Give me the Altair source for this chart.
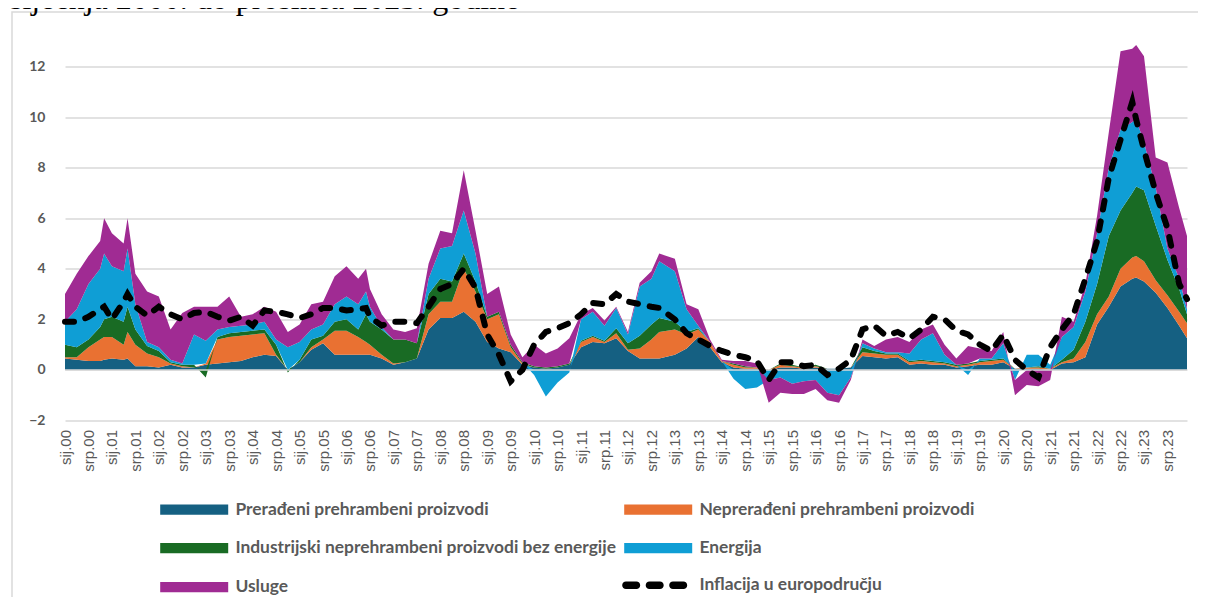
import json
import altair as alt
import pandas as pd

# month index: 0 = siječanj 2000, 287 = prosinac 2023
months = [0, 3, 6, 9, 10, 12, 15, 16, 18, 21,
          24, 27, 30, 33, 36, 39, 42, 45, 48, 51,
          54, 57, 60, 63, 66, 69, 72, 75, 77, 78,
          81, 84, 87, 90, 93, 96, 99, 102, 105, 108,
          111, 114, 117, 120, 123, 126, 129, 132, 135, 138,
          141, 144, 147, 150, 152, 156, 159, 162, 165, 168,
          171, 174, 177, 180, 183, 186, 189, 192, 195, 198,
          201, 204, 207, 210, 213, 216, 219, 222, 225, 228,
          231, 234, 237, 240, 243, 246, 249, 252, 255, 258,
          261, 264, 267, 270, 273, 274, 276, 279, 282, 285,
          287]

preradjeni = [0.45, 0.4, 0.35, 0.35, 0.4, 0.45, 0.4, 0.45, 0.15, 0.15,
              0.1, 0.2, 0.1, 0.1, 0.2, 0.25, 0.3, 0.35, 0.5, 0.6,
              0.55, 0.0, 0.3, 0.8, 1.05, 0.6, 0.6, 0.6, 0.6, 0.6,
              0.45, 0.2, 0.3, 0.45, 1.6, 2.05, 2.05, 2.3, 1.9, 1.1,
              0.85, 0.7, 0.2, 0.1, 0.05, 0.1, 0.2, 0.9, 1.1, 1.05,
              1.25, 0.75, 0.45, 0.45, 0.45, 0.6, 0.85, 1.3, 0.9, 0.3,
              0.1, 0.05, 0.05, 0.0, 0.1, 0.1, 0.05, 0.1, 0.05, 0.05,
              0.1, 0.55, 0.5, 0.45, 0.5, 0.2, 0.25, 0.2, 0.2, 0.1,
              0.15, 0.2, 0.2, 0.3, 0.05, 0.05, 0.05, 0.0, 0.25, 0.3,
              0.5, 1.8, 2.5, 3.3, 3.6, 3.65, 3.5, 3.05, 2.45, 1.75,
              1.25]

nepreradjeni = [0.05, 0.1, 0.55, 0.85, 0.9, 0.85, 0.6, 1.05, 0.85, 0.5,
                0.4, 0.05, 0.05, 0.0, 0.05, 0.95, 1.0, 1.0, 0.9, 0.85,
                0.05, 0.0, 0.0, 0.1, 0.15, 0.95, 0.95, 0.7, 0.5, 0.4,
                0.15, 0.05, 0.0, 0.0, 0.6, 0.65, 0.65, 1.7, 1.2, 0.9,
                1.35, 0.2, 0.05, 0.0, 0.0, 0.0, 0.0, 0.2, 0.2, 0.05,
                0.2, 0.05, 0.4, 0.75, 1.05, 1.0, 0.55, 0.3, 0.2, 0.05,
                0.1, 0.05, 0.05, 0.0, 0.1, 0.05, 0.05, 0.05, 0.0, 0.0,
                0.0, 0.15, 0.15, 0.15, 0.1, 0.1, 0.1, 0.1, 0.05, 0.05,
                0.05, 0.1, 0.15, 0.1, 0.0, 0.05, 0.05, 0.05, 0.05, 0.15,
                0.6, 0.4, 0.4, 0.7, 0.85, 0.85, 0.8, 0.5, 0.5, 0.55,
                0.6]

industrijski = [0.5, 0.4, 0.3, 0.5, 0.7, 0.8, 0.9, 1.0, 0.6, 0.3,
                0.25, 0.05, 0.05, 0.1, -0.3, 0.1, 0.15, 0.15, 0.15, 0.15,
                0.4, -0.1, 0.1, 0.3, 0.15, 0.35, 0.45, 0.3, 1.1, 0.9,
                1.0, 0.95, 0.9, 0.6, 0.8, 0.9, 0.8, 0.6, 0.4, 0.1,
                0.1, 0.1, 0.05, 0.05, 0.05, 0.05, 0.05, 0.05, 0.05, 0.05,
                0.2, 0.25, 0.5, 0.6, 0.55, 0.3, 0.1, 0.05, 0.0, 0.0,
                0.05, 0.05, 0.0, 0.0, 0.05, 0.05, 0.0, 0.05, 0.0, 0.0,
                0.0, 0.2, 0.1, 0.05, 0.05, 0.05, 0.05, 0.05, 0.05, 0.05,
                0.05, 0.05, 0.05, 0.05, 0.0, 0.0, 0.05, 0.0, 0.1, 0.35,
                0.8, 1.2, 2.4, 2.3, 2.55, 2.75, 2.8, 2.15, 1.4, 0.9,
                0.35]

energija = [0.9, 1.5, 2.2, 2.3, 2.6, 2.0, 2.0, 2.3, 1.0, 0.15,
            0.15, 0.1, 0.05, 1.2, 0.9, 0.3, 0.25, 0.25, 0.25, 0.3,
            0.2, 0.9, 0.7, 0.4, 0.45, 0.7, 0.9, 1.0, 0.9, 0.6,
            0.1, 0.0, 0.0, 0.0, 0.6, 1.2, 1.4, 1.7, 1.1, 0.0,
            0.0, 0.0, 0.0, -0.2, -1.05, -0.5, -0.1, 0.85, 0.95, 0.6,
            0.8, 0.35, 1.95, 1.8, 2.25, 2.0, 0.9, 0.1, 0.0, 0.0,
            -0.35, -0.75, -0.7, -0.4, -0.3, -0.55, -0.45, -0.4, -0.9, -1.0,
            -0.3, 0.15, 0.1, 0.05, 0.05, 0.3, 0.8, 1.1, 0.3, 0.0,
            -0.2, 0.1, 0.05, 0.6, -0.4, 0.5, 0.45, 0.15, 0.9, 0.9,
            1.2, 2.0, 2.7, 3.2, 2.8, 2.65, 1.9, 1.5, 0.45, 0.4,
            0.2]

usluge = [1.1, 1.4, 1.1, 1.1, 1.4, 1.3, 1.1, 1.2, 1.2, 2.0,
          2.0, 1.2, 2.0, 1.1, 1.35, 0.9, 1.2, 0.35, 0.4, 0.6,
          1.1, 0.6, 0.7, 1.0, 0.9, 1.1, 1.2, 1.0, 0.9, 0.7,
          0.5, 0.4, 0.3, 0.6, 0.6, 0.7, 0.5, 1.6, 0.9, 0.9,
          1.0, 0.4, 0.2, 0.85, 0.55, 0.7, 1.0, 0.2, 0.15, 0.2,
          0.05, 0.1, 0.15, 0.3, 0.3, 0.5, 0.2, 0.65, 0.1, 0.05,
          0.1, 0.2, 0.15, -0.9, -0.6, -0.4, -0.5, -0.35, -0.3, -0.3,
          -0.1, 0.15, 0.1, 0.5, 0.6, 0.45, 0.4, 0.35, 0.4, 0.25,
          0.7, 0.4, 0.3, 0.45, -0.6, -0.6, -0.65, -0.4, 0.8, 0.2,
          0.3, 0.7, 1.4, 3.1, 2.9, 2.95, 3.4, 1.2, 3.4, 2.8,
          2.9]

inflacija = [1.9, 1.9, 2.1, 2.4, 2.5, 2.0, 2.7, 3.0, 2.5, 2.15,
             2.5, 2.2, 2.0, 2.25, 2.3, 2.1, 1.95, 2.1, 1.75, 2.35,
             2.3, 2.2, 2.05, 2.2, 2.45, 2.45, 2.35, 2.4, 2.45, 2.1,
             1.75, 1.9, 1.9, 1.85, 2.5, 3.2, 3.4, 4.0, 3.25, 1.4,
             0.6, -0.45, 0.0, 1.0, 1.5, 1.65, 1.85, 2.2, 2.65, 2.6,
             3.0, 2.7, 2.6, 2.5, 2.45, 2.0, 1.45, 1.2, 0.95, 0.75,
             0.6, 0.5, 0.35, -0.4, 0.3, 0.3, 0.15, 0.2, -0.2, 0.05,
             0.4, 1.6, 1.75, 1.35, 1.5, 1.25, 1.6, 2.1, 2.0, 1.55,
             1.4, 1.0, 0.75, 1.4, 0.4, 0.0, -0.3, 0.9, 1.6, 2.2,
             3.6, 5.1, 7.6, 9.1, 10.6, 9.9, 8.7, 7.0, 5.6, 3.4,
             2.8]

series_names = ["Prerađeni prehrambeni proizvodi",
                "Neprerađeni prehrambeni proizvodi",
                "Industrijski neprehrambeni proizvodi bez energije",
                "Energija",
                "Usluge"]
series_colors = ["#156082", "#E97132", "#196B24", "#0F9ED5", "#A02B93"]
line_name = "Inflacija u europodručju"
years = [f"{y:02d}" for y in range(24)]
tick_labels = [p + "." + y for y in years for p in ("sij", "srp")]
y_ticks = [-2, 0, 2, 4, 6, 8, 10, 12]
title_text = "siječnja 2000. do prosinca 2023. godine"

GRAY = "#595959"
GRID = "#d9d9d9"

rows = []
for i, vals in enumerate([preradjeni, nepreradjeni, industrijski, energija, usluge]):
    for m, v in zip(months, vals):
        rows.append({"m": m, "serija": series_names[i], "vrijednost": v, "red": i})
area_df = pd.DataFrame(rows)
line_df = pd.DataFrame({"m": months, "vrijednost": inflacija,
                        "serija": [line_name] * len(months)})

x_scale = alt.Scale(domain=[0, 287], nice=False, zero=False)
y_scale = alt.Scale(domain=[-2, 13.5], nice=False, zero=False)

x_axis = alt.Axis(values=list(range(0, 288, 6)),
                  labelExpr=json.dumps(tick_labels) + "[round(datum.value / 6)]",
                  labelAngle=270, labelFont="Liberation Sans", labelFontSize=15,
                  labelColor=GRAY, labelPadding=9, grid=False, ticks=False,
                  domain=False, title=None, labelOverlap=False, labelFlush=False,
                  labelBound=False)
y_axis = alt.Axis(values=y_ticks, grid=True, gridColor=GRID, gridWidth=1.5,
                  domain=False, ticks=False, labelFont="Lato", labelFontWeight="bold",
                  labelFontSize=14, labelColor=GRAY, labelPadding=20, title=None)

# legend swatch: 68 x 10 px drawn from a path wider than the unit box (size 289 -> 8.5 px per unit)
swatch_path = "M-4,-0.6L4,-0.6L4,0.6L-4,0.6Z"
# three rounded dashes for the dashed-line legend entry
dash_path = ("M-3.383,-0.441L-2.147,-0.441A0.441,0.441,0,0,1,-2.147,0.441L-3.383,0.441"
             "A0.441,0.441,0,0,1,-3.383,-0.441Z"
             "M-0.618,-0.441L0.618,-0.441A0.441,0.441,0,0,1,0.618,0.441L-0.618,0.441"
             "A0.441,0.441,0,0,1,-0.618,-0.441Z"
             "M2.147,-0.441L3.383,-0.441A0.441,0.441,0,0,1,3.383,0.441L2.147,0.441"
             "A0.441,0.441,0,0,1,2.147,-0.441Z")

area_legend = alt.Legend(title=None, orient="none", direction="horizontal",
                         legendX=95, legendY=472, columns=2,
                         symbolType=swatch_path, symbolSize=289,
                         symbolOffset=25.5, symbolStrokeWidth=0, symbolOpacity=1,
                         labelFont="Lato", labelFontSize=17.4, labelFontWeight="bold",
                         labelColor=GRAY, labelOffset=32.5, labelLimit=0,
                         rowPadding=20, columnPadding=8, padding=0)
line_legend = alt.Legend(title=None, orient="none", direction="horizontal",
                         legendX=555.5, legendY=548,
                         symbolType=dash_path, symbolSize=289, symbolOffset=25.5,
                         symbolFillColor="black", symbolStrokeColor="black",
                         symbolStrokeWidth=0, symbolOpacity=1,
                         labelFont="Lato", labelFontSize=17.4, labelFontWeight="bold",
                         labelColor=GRAY, labelOffset=36, labelLimit=0, padding=0)

frame = alt.Chart(pd.DataFrame({"a": [0]})).mark_rect(
    fillOpacity=0, stroke=GRID, strokeWidth=1.5
).encode(x=alt.value(-53), x2=alt.value(1200), y=alt.value(-16.5), y2=alt.value(700))

title = alt.Chart(pd.DataFrame({"t": [title_text]})).mark_text(
    align="left", baseline="alphabetic", font="Liberation Serif", fontSize=32, color="black"
).encode(text="t:N", x=alt.value(-55), y=alt.value(-20))

areas = alt.Chart(area_df).mark_area(opacity=1).encode(
    x=alt.X("m:Q", scale=x_scale, axis=x_axis),
    y=alt.Y("vrijednost:Q", stack="zero", scale=y_scale, axis=y_axis),
    color=alt.Color("serija:N", scale=alt.Scale(domain=series_names, range=series_colors),
                    legend=area_legend),
    order=alt.Order("red:Q", sort="ascending"),
)

zero = alt.Chart(pd.DataFrame({"v": [0]})).mark_rule(color=GRID, strokeWidth=1.5).encode(
    y=alt.Y("v:Q", scale=y_scale, axis=y_axis))

line = alt.Chart(line_df).mark_line(color="black", strokeWidth=6, strokeCap="round").encode(
    x=alt.X("m:Q", scale=x_scale, axis=x_axis),
    y=alt.Y("vrijednost:Q", scale=y_scale, axis=y_axis),
    strokeDash=alt.StrokeDash("serija:N",
                              scale=alt.Scale(domain=[line_name], range=[[9, 12]]),
                              legend=line_legend),
)

chart = alt.layer(frame, title, areas, zero, line).properties(
    width=1122, height=392,
    padding={"left": 57, "top": 20.5, "right": 11, "bottom": 176},
    autosize=alt.AutoSizeParams(type="none"),
    background="white",
).configure_view(stroke=None)

chart.save("out.html", embed_options={"renderer": "svg", "actions": False})
